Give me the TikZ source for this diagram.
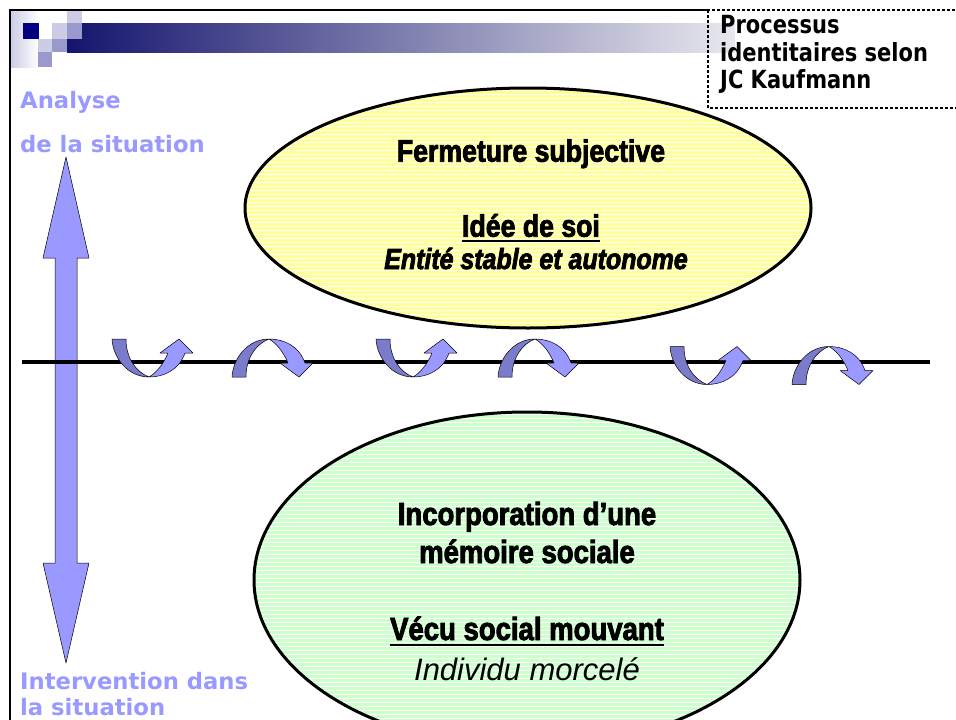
\documentclass[tikz,border=0pt]{standalone}
\usepackage{fontspec}
\newfontfamily\verdfont{DejaVu Sans}
\newfontfamily\tahfont{DejaVu Sans}[FakeStretch=0.84]
\newfontfamily\impfont{Liberation Sans}[FakeStretch=0.86, BoldFeatures={FakeBold=2.6}, BoldItalicFeatures={FakeBold=2.6}]
\newfontfamily\arialfont{Liberation Sans}
\definecolor{labblue}{HTML}{9999FF}
\definecolor{arrlight}{HTML}{9999FF}
\definecolor{arrdark}{HTML}{7B7BCC}
\definecolor{ellyel}{HTML}{FFFF99}
\definecolor{ellgrn}{HTML}{CCFFCC}
\definecolor{navyb}{HTML}{14146E}
\definecolor{barend}{HTML}{E8E8EE}
\definecolor{sqlight}{HTML}{CCCCE6}
\definecolor{sqmed}{HTML}{9999CC}
\definecolor{sqdark}{HTML}{000080}
\newcommand{\curvarr}[3]{%
\begin{scope}[shift={(#1,#2)}, yscale=#3]
\filldraw[arrbody, fill=arrdark] (0,-19) .. controls (1,0) and (16,19) .. (37,19) .. controls (24,14) and (14,0) .. (14,-19) -- cycle;
\filldraw[arrbody, fill=arrlight] (37,19) .. controls (52,19) and (67,12) .. (73,-5) -- (81,-5) -- (67,-19) -- (48,-5) -- (56,-5) .. controls (51,7) and (44,15) .. (37,19) -- cycle;
\end{scope}}
\begin{document}
\begin{tikzpicture}[x=1pt,y=-1pt,
  arrbody/.style={draw=black, line width=0.5pt, line join=round},
  lab/.style={anchor=base west, inner sep=0pt, text=labblue, font={\verdfont\bfseries\fontsize{22.7pt}{27pt}\selectfont}},
  proc/.style={anchor=base west, inner sep=0pt, font={\tahfont\bfseries\fontsize{25pt}{28pt}\selectfont}},
  imptop/.style={anchor=base, inner sep=0pt, font={\impfont\bfseries\fontsize{31pt}{34pt}\selectfont}},
  impbot/.style={anchor=base, inner sep=0pt, font={\impfont\bfseries\fontsize{32pt}{35pt}\selectfont}},
  dotline/.style={line width=2pt, dash pattern=on 2.5pt off 2.5pt},
  ellborder/.style={line width=3pt}
]
\useasboundingbox (0,0) rectangle (956,720);
\fill[white] (0,0) rectangle (956,720);

% header decoration
\shade[left color=sqlight, right color=white] (11,11) rectangle (38,67);
\shade[left color=navyb, right color=barend] (67,23) rectangle (735,52);
\fill[sqdark] (23,23) rectangle (39,39);
\fill[sqlight] (52,23) rectangle (67,39);
\fill[sqlight] (67,11) rectangle (82,23);
\fill[sqmed] (67,23) rectangle (82,39);
\fill[sqlight] (38,39) rectangle (52,52);
\fill[sqmed] (52,39) rectangle (67,52);
\fill[sqmed] (38,52) rectangle (52,67);

% frame
\draw[line width=2pt] (10,721) -- (10,10) -- (707,10);
\draw[dotline] (707,10) -- (956,10);
\draw[dotline] (708,10) -- (708,108) -- (956,108);

% title box text
\node[proc] (proc1) at (720,33.3) {Processus};
\node[proc] (proc2) at (720,61.7) {identitaires selon};
\node[proc] (proc3) at (720,88.3) {JC Kaufmann};

% side labels
\node[lab] (analyse) at (20,108.3) {Analyse};
\node[lab] (situ1) at (20,152.7) {de la situation};
\node[lab] (interv) at (20,689.3) {Intervention dans};
\node[lab] (situ2) at (20,715.5) {la situation};

% top ellipse
\begin{scope}
\clip (528,208) ellipse [x radius=283pt, y radius=120pt];
\fill[ellyel] (240,80) rectangle (820,340);
\foreach \yy in {86,90,...,330} \draw[white, line width=0.9pt] (240,\yy) -- (820,\yy);
\end{scope}
\draw[ellborder] (528,208) ellipse [x radius=283pt, y radius=120pt];

% bottom ellipse
\begin{scope}
\clip (527,580) ellipse [x radius=273pt, y radius=168pt];
\fill[ellgrn] (250,410) rectangle (805,770);
\foreach \yy in {414,418,...,770} \draw[white, line width=0.9pt] (250,\yy) -- (805,\yy);
\end{scope}
\draw[ellborder] (527,580) ellipse [x radius=273pt, y radius=168pt];

% texts in top ellipse
\node[imptop] (ferm) at (531,161.7) {Fermeture subjective};
\node[imptop] (idee) at (531,236.7) {Idée de soi};
\draw[line width=2pt] ([yshift=-4.5pt]idee.base west) -- ([yshift=-4.5pt]idee.base east);
\node[imptop, font={\impfont\bfseries\itshape\fontsize{29pt}{32pt}\selectfont}] (entite) at (536,269) {Entité stable et autonome};

% texts in bottom ellipse
\node[impbot] (incorp) at (527,525) {Incorporation d’une};
\node[impbot] (memoire) at (527,563) {mémoire sociale};
\node[impbot] (vecu) at (527,640) {Vécu social mouvant};
\draw[line width=2pt] ([yshift=-5pt]vecu.base west) -- ([yshift=-5pt]vecu.base east);
\node[anchor=base, inner sep=0pt, font={\arialfont\itshape\fontsize{31pt}{35pt}\selectfont}] (indiv) at (527,680) {Individu morcelé};

% vertical double arrow
\filldraw[arrbody, fill=arrlight] (66,157) -- (89,258) -- (77,258) -- (77,563) -- (89,563) -- (66,663) -- (43,563) -- (55,563) -- (55,258) -- (43,258) -- cycle;

% horizontal axis
\draw[line width=4.5pt] (22,362) -- (930,362);

% curved arrows
\curvarr{112}{358}{1}
\curvarr{232}{358}{-1}
\curvarr{376}{358}{1}
\curvarr{498}{358}{-1}
\curvarr{670}{365.5}{1}
\curvarr{792}{365.5}{-1}
\end{tikzpicture}
\end{document}
